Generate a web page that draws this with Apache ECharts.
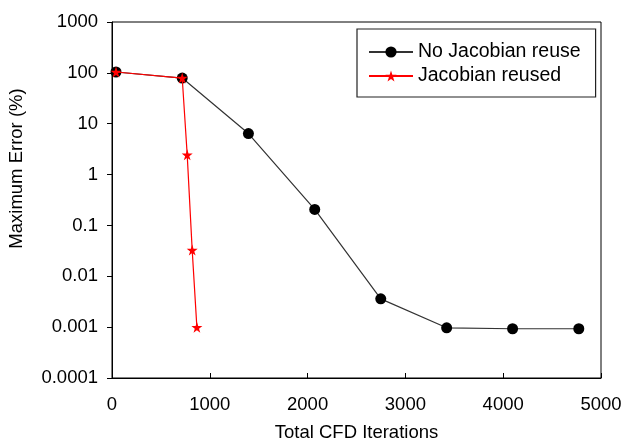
<!DOCTYPE html>
<html>
<head>
<meta charset="utf-8">
<script src="https://cdn.jsdelivr.net/npm/echarts@6/dist/echarts.min.js"></script>
<style>html,body{margin:0;padding:0;background:#fff;}#c{width:631px;height:444px;}</style>
</head>
<body>
<div id="c"></div>
<script>
const seriesNames = ['No Jacobian reuse', 'Jacobian reused'];
const noReuseX = [41, 718, 1395, 2073, 2748, 3422, 4096, 4773];
const noReuseY = [104, 79, 6.4, 0.206, 0.0036, 0.00097, 0.00093, 0.00093];
const reusedX = [41, 718, 769, 820, 868];
const reusedY = [104, 79, 2.44, 0.0327, 0.00099];
const xTickLabels = ['0', '1000', '2000', '3000', '4000', '5000'];
const yTickLabels = ['0.0001', '0.001', '0.01', '0.1', '1', '10', '100', '1000'];
const xTitle = 'Total CFD Iterations';
const yTitle = 'Maximum Error (%)';

const FONT = 'Liberation Sans, Arial, sans-serif';
const FS = 18.5;
const chart = echarts.init(document.getElementById('c'));
chart.setOption({
  animation: false,
  backgroundColor: '#fff',
  textStyle: { fontFamily: FONT, color: '#000' },
  grid: { left: 112, right: 30, top: 22, bottom: 66, show: true, borderColor: '#000', borderWidth: 1,
    containLabel: false, outerBoundsMode: 'none' },
  legend: {
    orient: 'vertical', left: 357, top: 29,
    padding: [13, 15, 11, 11],
    itemWidth: 44, itemHeight: 14, itemGap: 4,
    backgroundColor: '#fff', borderColor: '#222', borderWidth: 1.2,
    textStyle: { fontFamily: FONT, fontSize: 19.5, color: '#000' },
    data: seriesNames
  },
  xAxis: {
    type: 'value', min: 0, max: 5000, interval: 1000,
    name: xTitle, nameLocation: 'middle', nameGap: 45,
    nameTextStyle: { fontFamily: FONT, fontSize: FS, color: '#000' },
    axisLine: { lineStyle: { color: '#000', width: 1 } },
    axisTick: { inside: true, length: 5, lineStyle: { color: '#000' } },
    axisLabel: { fontFamily: FONT, fontSize: FS, color: '#000', margin: 17,
      formatter: v => xTickLabels[Math.round(v / 1000)] },
    splitLine: { show: false }
  },
  yAxis: {
    type: 'log', logBase: 10, min: 0.0001, max: 1000,
    name: yTitle, nameLocation: 'middle', nameGap: 86, nameRotate: 90,
    nameTextStyle: { fontFamily: FONT, fontSize: FS, color: '#000', padding: [0, 0, 0, 63] },
    axisLine: { lineStyle: { color: '#000', width: 1 } },
    axisTick: { inside: false, length: 5, lineStyle: { color: '#000' } },
    minorTick: { show: false },
    axisLabel: { fontFamily: FONT, fontSize: FS, color: '#000', margin: 14,
      formatter: v => yTickLabels[Math.round(Math.log10(v)) + 4] },
    splitLine: { show: false }
  },
  series: [
    {
      name: seriesNames[0], type: 'line',
      data: noReuseX.map((x, i) => [x, noReuseY[i]]),
      symbol: 'circle', symbolSize: 11,
      lineStyle: { color: '#333', width: 1.2 },
      itemStyle: { color: '#000' },
      z: 2
    },
    {
      name: seriesNames[1], type: 'line',
      data: reusedX.map((x, i) => [x, reusedY[i]]),
      symbol: 'path://M50,0 L61.8,36.2 L100,36.2 L69.1,58.8 L80.9,95.1 L50,72.7 L19.1,95.1 L30.9,58.8 L0,36.2 L38.2,36.2 Z', symbolSize: 11,
      lineStyle: { color: '#ff0000', width: 1.2 },
      itemStyle: { color: '#ff0000' },
      z: 3
    }
  ]
});
</script>
</body>
</html>
